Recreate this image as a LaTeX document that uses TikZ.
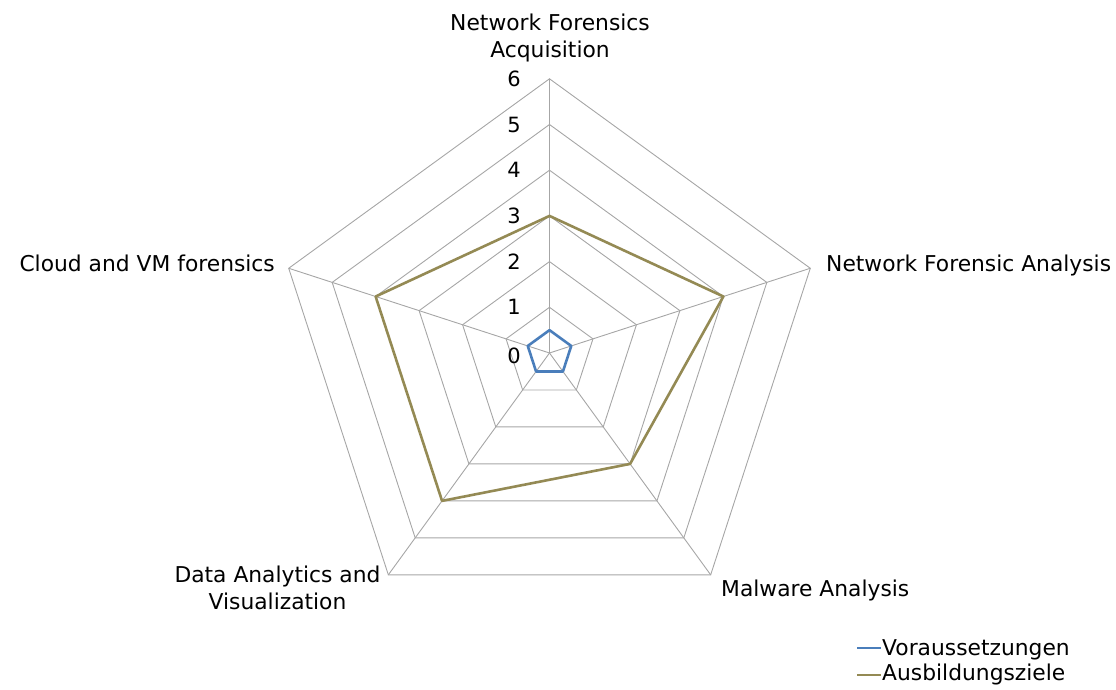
\documentclass[tikz,border=0pt]{standalone}
\usepackage{fontspec}
\setmainfont{DejaVu Sans}
\usetikzlibrary{calc}
\definecolor{gridc}{HTML}{A6A6A6}
\definecolor{bluec}{HTML}{4A7EBB}
\definecolor{brownc}{HTML}{948A54}
\begin{document}
\begin{tikzpicture}[x=1pt,y=1pt,
  grid/.style={draw=gridc,line width=0.9pt},
  serA/.style={draw=bluec,line width=2.6pt,line join=round},
  serB/.style={draw=brownc,line width=2.6pt,line join=round},
  lab/.style={font=\fontsize{21.8}{27}\selectfont,inner sep=0pt,align=center},
  tick/.style={font=\fontsize{21}{24}\selectfont,inner sep=0pt}]
\useasboundingbox (0,0) rectangle (1116,689);
\def\u{45.7}
\coordinate (c) at (549.5,336);
% rings
\foreach \r in {1,...,6}{
  \draw[grid] ($(c)+(90:\r*\u)$) -- ($(c)+(18:\r*\u)$) -- ($(c)+(-54:\r*\u)$) -- ($(c)+(-126:\r*\u)$) -- ($(c)+(162:\r*\u)$) -- cycle;
}
\foreach \a/\n in {90/a1,18/a2,-54/a3,-126/a4,162/a5}{
  \coordinate (\n) at ($(c)+(\a:6*\u)$);
  \draw[grid] (c) -- (\n);
}
% series
\draw[serB] ($(c)+(90:3*\u)$) -- ($(c)+(18:4*\u)$) -- ($(c)+(-54:3*\u)$) -- ($(c)+(-126:4*\u)$) -- ($(c)+(162:4*\u)$) -- cycle;
\draw[serA] ($(c)+(90:0.5*\u)$) -- ($(c)+(18:0.5*\u)$) -- ($(c)+(-54:0.5*\u)$) -- ($(c)+(-126:0.5*\u)$) -- ($(c)+(162:0.5*\u)$) -- cycle;
% ticks
\foreach \v in {1,...,6}{
  \node[tick] (t\v) at (514,{336+\v*\u}) {\v};
}
\node[tick] (t0) at (514,333) {0};
% axis labels
\node[lab,anchor=base] (l1) at (550,631) {Network Forensics\\Acquisition};
\node[lab,anchor=base west] (l2) at (826,417) {Network Forensic Analysis};
\node[lab,anchor=base west] (l3) at (721,93) {Malware Analysis};
\node[lab,anchor=base] (l4) at (277.5,80) {Data Analytics and\\Visualization};
\node[lab,anchor=base east] (l5) at (275,417) {Cloud and VM forensics};
% legend
\coordinate (lg1a) at (857,41);
\coordinate (lg1b) at (881,41);
\coordinate (lg2a) at (857,14);
\coordinate (lg2b) at (881,14);
\draw[bluec,line width=2.6pt] (lg1a) -- (lg1b);
\draw[brownc,line width=2.6pt] (lg2a) -- (lg2b);
\node[lab,anchor=base west] (lt1) at (882,34) {Voraussetzungen};
\node[lab,anchor=base west] (lt2) at (882,9) {Ausbildungsziele};
\end{tikzpicture}
\end{document}
